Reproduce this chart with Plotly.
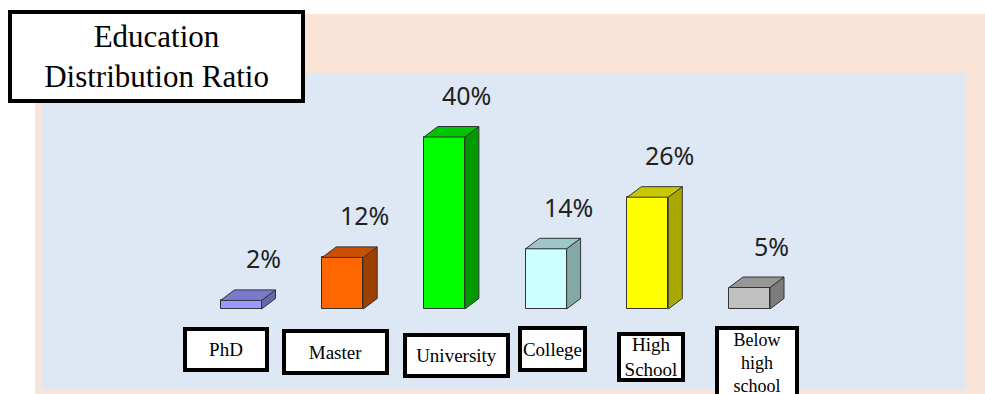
import plotly.graph_objects as go

# ---- data ----
categories = ["PhD", "Master", "University", "College", "High<br>School", "Below<br>high<br>school"]
values = [2, 12, 40, 14, 26, 5]
value_labels = ["2%", "12%", "40%", "14%", "26%", "5%"]
title_text = "Education<br>Distribution Ratio"

# ---- styles ----
front_colors = ["#9999FF", "#FF6600", "#00FF00", "#CCFFFF", "#FFFF00", "#C0C0C0"]
top_colors = ["#7A7ACC", "#C85000", "#00C400", "#9FC6C6", "#C8C800", "#969696"]
side_colors = ["#6666AA", "#A04000", "#009A00", "#82A8A8", "#A8A800", "#7C7C7C"]

W, H = 985, 394
px_per_cat = 101.7
px_per_pct = 4.3
first_center_px = 241
baseline_px = 309
x0 = -first_center_px / px_per_cat
x1 = x0 + W / px_per_cat
ymax = baseline_px / px_per_pct
ymin = -(H - baseline_px) / px_per_pct

bar_w = 41 / px_per_cat
dx = 14 / px_per_cat
dy = 10.5 / px_per_pct
edge = "#333333"

xs = list(range(len(values)))

fig = go.Figure()
fig.add_trace(go.Bar(x=xs, y=values, width=bar_w, marker=dict(color=front_colors, line=dict(color=edge, width=1)),
                     hoverinfo="skip", showlegend=False))

for i, v in zip(xs, values):
    l, r = i - bar_w / 2, i + bar_w / 2
    # side face
    fig.add_trace(go.Scatter(x=[r, r + dx, r + dx, r, r], y=[0, dy, v + dy, v, 0], mode="lines",
                             fill="toself", fillcolor=side_colors[i], line=dict(color=edge, width=1),
                             hoverinfo="skip", showlegend=False))
    # top face
    fig.add_trace(go.Scatter(x=[l, r, r + dx, l + dx, l], y=[v, v, v + dy, v + dy, v], mode="lines",
                             fill="toself", fillcolor=top_colors[i], line=dict(color=edge, width=1),
                             hoverinfo="skip", showlegend=False))

annotations = []
for i, v in zip(xs, values):
    annotations.append(dict(x=i, y=v, xref="x", yref="y", text=value_labels[i], showarrow=False,
                            xshift=22, yshift=42, font=dict(family="Noto Sans", size=25, color="#222222")))

# category label boxes (outer pixel extents: left, top, right, bottom)
boxes = [(183, 327, 269, 372), (282, 329, 389, 375), (403, 333, 510, 378),
         (518, 326, 587, 372), (617, 332, 685, 382), (715, 326, 799, 400)]
box_font_sizes = [19, 19, 19, 19, 19, 18]
bw = 4
for (L, T, R, B), cat, fs in zip(boxes, categories, box_font_sizes):
    annotations.append(dict(x=(L + R) / 2 / W, y=1 - (T + B) / 2 / H, xref="paper", yref="paper",
                            xanchor="center", yanchor="middle", text=cat, showarrow=False,
                            width=R - L - 2 * bw, height=B - T - 2 * bw, borderpad=0,
                            bgcolor="white", bordercolor="black", borderwidth=bw,
                            font=dict(family="Liberation Serif", size=fs, color="black")))

# title box
tL, tT, tR, tB = 8, 10, 305, 103
annotations.append(dict(x=(tL + tR) / 2 / W, y=1 - (tT + tB) / 2 / H, xref="paper", yref="paper",
                        xanchor="center", yanchor="middle", text=title_text, showarrow=False,
                        width=tR - tL - 2 * bw, height=tB - tT - 2 * bw, borderpad=0,
                        bgcolor="white", bordercolor="black", borderwidth=bw,
                        font=dict(family="Liberation Serif", size=31, color="black")))

shapes = [
    dict(type="rect", xref="paper", yref="paper", x0=35 / W, x1=1, y0=0, y1=1 - 14 / H,
         fillcolor="#FAE4D7", line=dict(width=0), layer="below"),
    dict(type="rect", xref="paper", yref="paper", x0=42 / W, x1=965 / W, y0=1 - 389 / H, y1=1 - 73 / H,
         fillcolor="#DEE8F4", line=dict(width=0), layer="below"),
]

fig.update_layout(
    width=W, height=H, margin=dict(l=0, r=0, t=0, b=0),
    paper_bgcolor="white", plot_bgcolor="rgba(0,0,0,0)",
    xaxis=dict(range=[x0, x1], visible=False, fixedrange=True),
    yaxis=dict(range=[ymin, ymax], visible=False, fixedrange=True),
    shapes=shapes, annotations=annotations, bargap=0, showlegend=False,
)

fig.write_html("out.html", config={"displayModeBar": False},
               post_script="document.body.style.margin='0';document.body.style.overflow='hidden';")
